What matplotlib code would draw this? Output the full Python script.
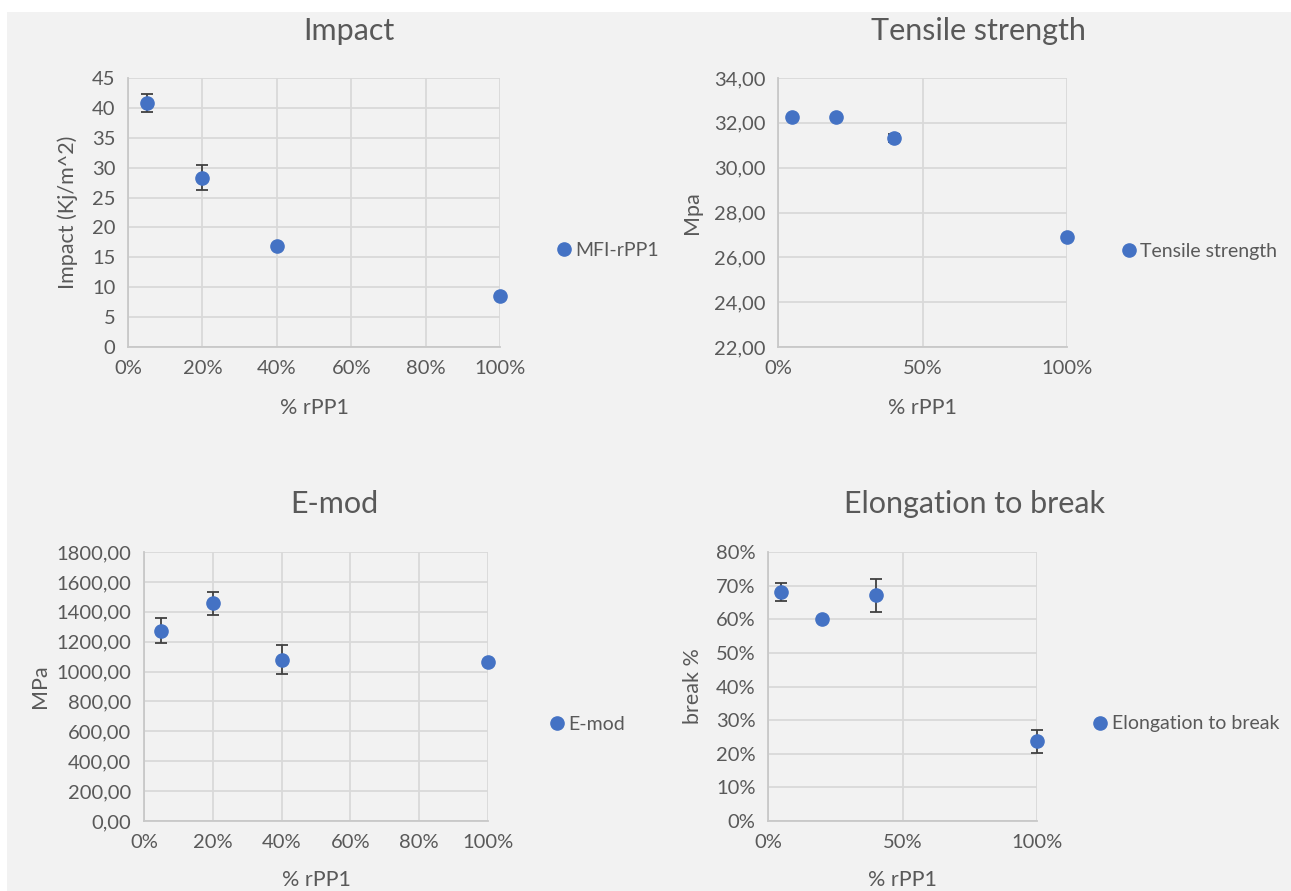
import matplotlib
matplotlib.use("Agg")
import matplotlib.pyplot as plt
from matplotlib.patches import Rectangle
from matplotlib.ticker import FuncFormatter, MultipleLocator

plt.rcParams['font.family'] = ['Lato', 'DejaVu Sans']

# ---- data ----
x_rpp1 = [0.05, 0.20, 0.40, 1.00]

impact = [40.8, 28.3, 16.9, 8.6]
impact_err = [1.5, 2.1, 0.4, 0.3]

tensile = [32.27, 32.25, 31.33, 26.89]
tensile_err = [0.05, 0.05, 0.18, 0.08]

emod = [1272, 1457, 1080, 1062]
emod_err = [84, 78, 98, 10]

elong = [0.681, 0.601, 0.671, 0.237]
elong_err = [0.027, 0.004, 0.050, 0.034]

titles = ["Impact", "Tensile strength", "E-mod", "Elongation to break"]
series_names = ["MFI-rPP1", "Tensile strength", "E-mod", "Elongation to break"]
ylabels = ["Impact (Kj/m^2)", "Mpa", "MPa", "break %"]
xlabel = "% rPP1"

W, H = 1291, 891
fig = plt.figure(figsize=(W / 100, H / 100), dpi=100)
fig.patch.set_facecolor("white")
fig.patches.append(Rectangle((7 / W, 0), 1 - 7 / W, 1 - 12 / H, transform=fig.transFigure,
                             facecolor="#f2f2f2", edgecolor="none", zorder=-10))

TXT = "#595959"
BLUE = "#4472C4"
GRID = "#d9d9d9"


def fx(px):
    return px / W


def fy(py):
    return 1 - py / H


def make_ax(l, r, t, b):
    ax = fig.add_axes([fx(l), fy(b), fx(r) - fx(l), (b - t) / H])
    ax.set_facecolor("none")
    for s in ["top", "right"]:
        ax.spines[s].set_visible(False)
    for s in ["left", "bottom"]:
        ax.spines[s].set_color("#c8c8c8")
        ax.spines[s].set_linewidth(1.3)
    ax.grid(True, color=GRID, linewidth=1.3)
    ax.set_axisbelow(True)
    ax.tick_params(length=0, labelsize=14.5, labelcolor=TXT, pad=9)
    return ax


pct = FuncFormatter(lambda v, p: f"{v*100:.0f}%")
comma2 = FuncFormatter(lambda v, p: f"{v:.2f}".replace(".", ","))

panels = [
    dict(box=(128, 500, 78, 347), y=impact, e=impact_err, ylim=(0, 45), ystep=5,
         yfmt=FuncFormatter(lambda v, p: f"{v:.0f}"), xstep=0.2,
         title_xy=(349, 31), ylab_x=68, xlab_y=408, leg_xy=(558, 250)),
    dict(box=(778, 1067, 78, 347), y=tensile, e=tensile_err, ylim=(22, 34), ystep=2,
         yfmt=comma2, xstep=0.5,
         title_xy=(978, 31), ylab_x=692, xlab_y=408, leg_xy=(1123, 251)),
    dict(box=(144, 488, 552, 821), y=emod, e=emod_err, ylim=(0, 1800), ystep=200,
         yfmt=comma2, xstep=0.2,
         title_xy=(334, 504), ylab_x=40, xlab_y=880, leg_xy=(551, 724)),
    dict(box=(768, 1037, 552, 821), y=elong, e=elong_err, ylim=(0, 0.8), ystep=0.1,
         yfmt=pct, xstep=0.5,
         title_xy=(975, 504), ylab_x=693, xlab_y=880, leg_xy=(1094, 724)),
]

for i, p in enumerate(panels):
    l, r, t, b = p["box"]
    ax = make_ax(l, r, t, b)
    cont = ax.errorbar(x_rpp1, p["y"], yerr=p["e"], fmt="o", color=BLUE, markersize=9.5,
                       ecolor="#404040", elinewidth=1.3, capsize=4.5, capthick=1.3,
                       label=series_names[i], zorder=3)
    for art in cont.get_children():
        art.set_clip_on(False)
    ax.set_xlim(0, 1)
    ax.set_ylim(*p["ylim"])
    ax.xaxis.set_major_locator(MultipleLocator(p["xstep"]))
    ax.yaxis.set_major_locator(MultipleLocator(p["ystep"]))
    ax.xaxis.set_major_formatter(pct)
    ax.yaxis.set_major_formatter(p["yfmt"])
    fig.text(fx(p["title_xy"][0]), fy(p["title_xy"][1]), titles[i], ha="center", va="center",
             fontsize=22, color=TXT)
    fig.text(fx(p["ylab_x"]), fy((t + b) / 2), ylabels[i], rotation=90, ha="center",
             va="center", fontsize=15.5, color=TXT)
    fig.text(fx((l + r) / 2), fy(p["xlab_y"]), xlabel, ha="center", va="center",
             fontsize=15.5, color=TXT)
    handles, labels = ax.get_legend_handles_labels()
    fig.legend([handles[0][0]], labels, loc="center left",
               bbox_to_anchor=(fx(p["leg_xy"][0]), fy(p["leg_xy"][1])),
               bbox_transform=fig.transFigure, frameon=False, borderpad=0,
               borderaxespad=0, handlelength=0.6, handletextpad=0.3,
               fontsize=14, labelcolor=TXT)

fig.savefig("out.png", dpi=100, facecolor=fig.get_facecolor())
